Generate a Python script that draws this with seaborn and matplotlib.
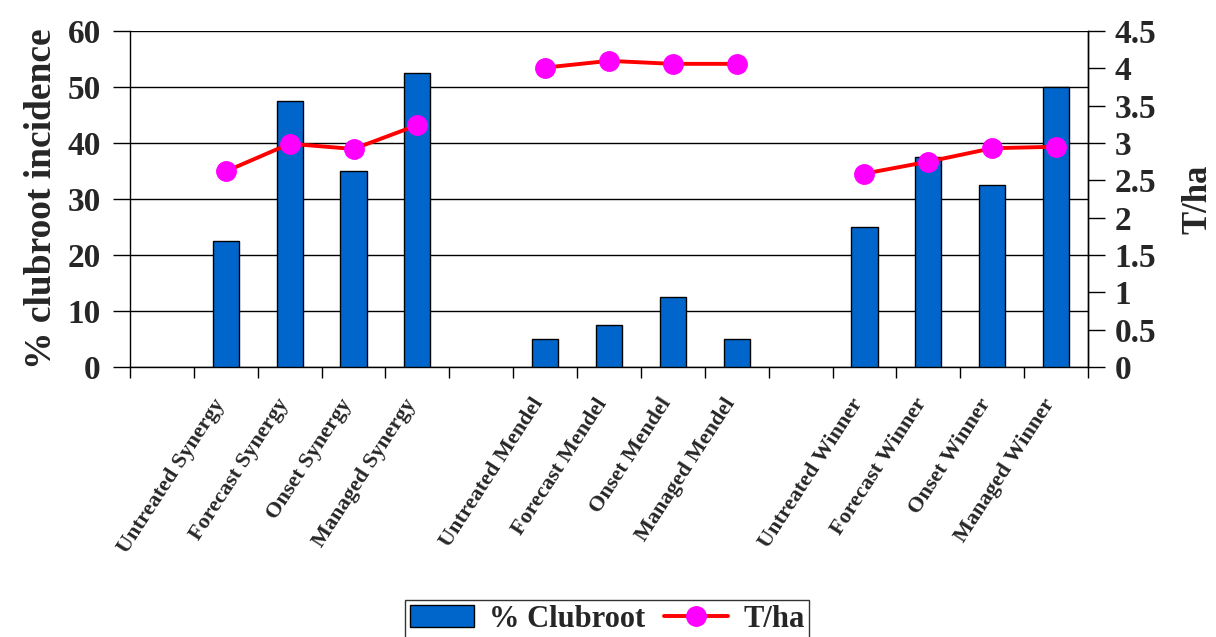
import numpy as np
import pandas as pd
import matplotlib
matplotlib.use("Agg")
import matplotlib.pyplot as plt
import matplotlib.transforms as mtransforms
import seaborn as sns
from matplotlib.patches import Patch
from matplotlib.lines import Line2D

# ---- data ----
slots = ["gap1", "Untreated Synergy", "Forecast Synergy", "Onset Synergy", "Managed Synergy",
         "gap2", "Untreated Mendel", "Forecast Mendel", "Onset Mendel", "Managed Mendel",
         "gap3", "Untreated Winner", "Forecast Winner", "Onset Winner", "Managed Winner"]
tick_labels = ["", "Untreated Synergy", "Forecast Synergy", "Onset Synergy", "Managed Synergy",
               "", "Untreated Mendel", "Forecast Mendel", "Onset Mendel", "Managed Mendel",
               "", "Untreated Winner", "Forecast Winner", "Onset Winner", "Managed Winner"]
treatments = ["Untreated Synergy", "Forecast Synergy", "Onset Synergy", "Managed Synergy",
              "Untreated Mendel", "Forecast Mendel", "Onset Mendel", "Managed Mendel",
              "Untreated Winner", "Forecast Winner", "Onset Winner", "Managed Winner"]
clubroot = [22.5, 47.5, 35.0, 52.5, 5.0, 7.5, 12.5, 5.0, 25.0, 37.5, 32.5, 50.0]
tha = [2.62, 2.99, 2.92, 3.24, 4.01, 4.10, 4.06, 4.06, 2.59, 2.75, 2.93, 2.95]

left_ticks = [0, 10, 20, 30, 40, 50, 60]
right_ticks = [0, 0.5, 1, 1.5, 2, 2.5, 3, 3.5, 4, 4.5]
right_tick_labels = ["0", "0.5", "1", "1.5", "2", "2.5", "3", "3.5", "4", "4.5"]

df = pd.DataFrame({"treatment": treatments, "clubroot": clubroot, "tha": tha})

sns.set_theme(style="white")
plt.rcParams["font.family"] = ["Liberation Serif", "DejaVu Serif"]
plt.rcParams["font.weight"] = "bold"

fig = plt.figure(figsize=(12.16, 6.37), dpi=100)
ax = fig.add_axes([130/1216, 1-367/637, (1088-130)/1216, (367-31)/637])

sns.barplot(data=df, x="treatment", y="clubroot", order=slots, color="#0066CC",
            width=0.41, edgecolor="black", linewidth=1.0, saturation=1, ax=ax, zorder=3)

ax.set_xlim(-0.5, len(slots) - 0.5)
ax.set_ylim(0, 60)
ax.set_yticks(left_ticks)
ax.set_yticklabels([str(t) for t in left_ticks], fontsize=24, fontweight="bold")
ax.yaxis.grid(True, color="black", linewidth=1.0, zorder=0)
ax.set_axisbelow(True)
ax.tick_params(axis="y", direction="out", length=12, width=1, color="black", left=True, pad=9)

ax.set_xticks(range(len(slots)))
ax.set_xticklabels(tick_labels, rotation=57, ha="right", rotation_mode="anchor",
                   fontsize=16, fontweight="bold")
ax.tick_params(axis="x", which="major", length=0, pad=20)
offset = mtransforms.ScaledTranslation(-14/100, 0, fig.dpi_scale_trans)
for lbl in ax.get_xticklabels():
    lbl.set_transform(lbl.get_transform() + offset)
ax.set_xticks(np.arange(-0.5, len(slots), 1.0), minor=True)
ax.tick_params(axis="x", which="minor", direction="out", length=8, width=1, color="black", bottom=True)

ax.set_xlabel("")
ax.set_ylabel("% clubroot incidence", fontsize=27, fontweight="bold", labelpad=6)

for s in ["left", "bottom", "right"]:
    ax.spines[s].set_visible(True)
    ax.spines[s].set_color("black")
    ax.spines[s].set_linewidth(1.0)
ax.spines["top"].set_visible(False)

ax2 = ax.twinx()
# line values per slot (NaN at gaps so the line breaks between groups)
tha_map = dict(zip(treatments, tha))
line_vals = [tha_map.get(s, np.nan) for s in slots]
ax2.plot(np.arange(len(slots)), line_vals, color="red", linewidth=2.8,
         marker="o", markersize=14, markerfacecolor="magenta", markeredgecolor="magenta", zorder=5)
ax2.set_ylim(0, 4.5)
ax2.set_yticks(right_ticks)
ax2.set_yticklabels(right_tick_labels, fontsize=24, fontweight="bold")
ax2.tick_params(axis="y", direction="out", length=12, width=1, color="black", right=True, pad=7)
ax2.set_ylabel("T/ha", fontsize=25, fontweight="bold", labelpad=18)
ax2.grid(False)
for s in ["left", "bottom", "top"]:
    ax2.spines[s].set_visible(False)
ax2.spines["right"].set_color("black")
ax2.spines["right"].set_linewidth(1.0)

handles = [Patch(facecolor="#0066CC", edgecolor="black", linewidth=1.0),
           Line2D([0], [0], color="red", linewidth=2.8, marker="o", markersize=14,
                  markerfacecolor="magenta", markeredgecolor="magenta")]
leg = fig.legend(handles, ["% Clubroot", "T/ha"], loc="upper center",
                 bbox_to_anchor=(607/1216, 1-585/637), ncol=2, frameon=True,
                 fancybox=False, prop={"size": 22, "weight": "bold"},
                 handlelength=2.1, handletextpad=0.5, columnspacing=0.6,
                 borderpad=0.15, edgecolor="black")
leg.get_frame().set_linewidth(1.0)

fig.savefig("out.png", dpi=100)
